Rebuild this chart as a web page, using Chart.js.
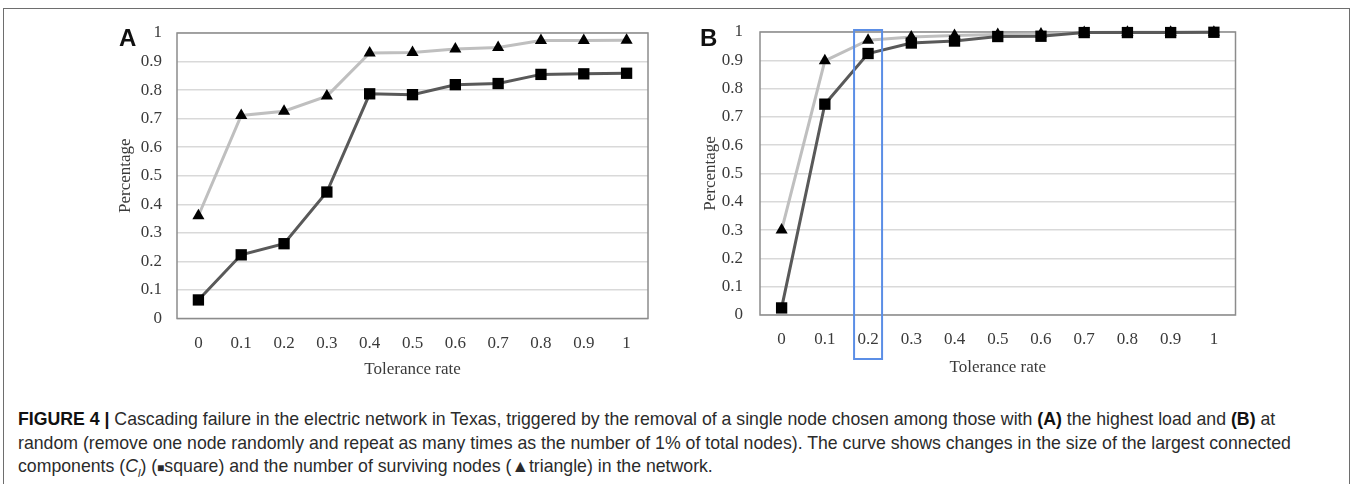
<!DOCTYPE html>
<html>
<head>
<meta charset="utf-8">
<script src="https://cdn.jsdelivr.net/npm/chart.js@4.4.0/dist/chart.umd.min.js"></script>
<style>
html, body { margin: 0; padding: 0; background: #fff; }
body { width: 1352px; height: 484px; position: relative; overflow: hidden; }
#marco { position: absolute; left: 3px; top: 8px; width: 1347px; height: 520px; border: 1.5px solid #6e6e6e; box-sizing: border-box; }
.caja { position: absolute; top: 0; }
#caja_a { left: 0; width: 680px; height: 400px; }
#caja_b { left: 680px; width: 672px; height: 400px; }
.letra { position: absolute; font: bold 24px "Liberation Sans", Arial, sans-serif; color: #111; line-height: 24px; }
#pie { position: absolute; left: 18px; top: 408px; font: 17.7px "Liberation Sans", Arial, sans-serif; line-height: 23.5px; color: #2b2b2b; white-space: nowrap; }
#pie b { color: #111; }
</style>
</head>
<body>
<div id="marco"></div>
<div class="caja" id="caja_a"><canvas id="grafico_a" width="680" height="400"></canvas></div>
<div class="caja" id="caja_b"><canvas id="grafico_b" width="672" height="400"></canvas></div>
<div class="letra" style="left:119px; top:26px;">A</div>
<div class="letra" style="left:700px; top:26px;">B</div>
<div id="pie">
<b>FIGURE 4 |</b> Cascading failure in the electric network in Texas, triggered by the removal of a single node chosen among those with <b>(A)</b> the highest load and <b>(B)</b> at<br>
random (remove one node randomly and repeat as many times as the number of 1% of total nodes). The curve shows changes in the size of the largest connected<br>
components (<i>C<sub style="font-size:11px">l</sub></i>) (<span style="font-size:12px">&#9632;</span>square) and the number of surviving nodes (&#9650;triangle) in the network.
</div>

<script>
/*********-datos-*********/
const CATEGORIAS = ["0", "0.1", "0.2", "0.3", "0.4", "0.5", "0.6", "0.7", "0.8", "0.9", "1"];
const Y_ETIQUETAS = ["0", "0.1", "0.2", "0.3", "0.4", "0.5", "0.6", "0.7", "0.8", "0.9", "1"];

// grafico A (nodo con mayor carga)
const A_TRIANGULOS = [0.36, 0.711, 0.726, 0.779, 0.930, 0.932, 0.944, 0.949, 0.974, 0.974, 0.975];
const A_CUADRADOS = [0.065, 0.223, 0.262, 0.443, 0.787, 0.784, 0.819, 0.823, 0.855, 0.857, 0.859];

// grafico B (nodo aleatorio)
const B_TRIANGULOS = [0.30, 0.898, 0.971, 0.982, 0.988, 0.991, 0.993, 0.998, 0.999, 0.999, 0.999];
const B_CUADRADOS = [0.025, 0.745, 0.924, 0.961, 0.968, 0.984, 0.985, 0.998, 0.998, 0.998, 0.999];
//------------------------------------//

const FUENTE_SERIF = "'Liberation Serif', 'Times New Roman', serif";
const COLOR_TEXTO = "#3a3a3a";

// borde gris alrededor del area del grafico
const borde_area = {
  id: "borde_area",
  beforeDatasetsDraw(chart) {
    const a = chart.chartArea;
    const ctx = chart.ctx;
    ctx.save();
    ctx.strokeStyle = "#8c8c8c";
    ctx.lineWidth = 1.5;
    ctx.strokeRect(a.left, a.top, a.right - a.left, a.bottom - a.top);
    ctx.restore();
  }
};

// rectangulo azul sobre la categoria 0.2 (solo grafico B)
const resaltado = {
  id: "resaltado",
  afterDraw(chart) {
    const x = chart.scales.x.getPixelForValue(2);
    const a = chart.chartArea;
    const ctx = chart.ctx;
    ctx.save();
    ctx.strokeStyle = "#5b8ee6";
    ctx.lineWidth = 2;
    ctx.strokeRect(x - 14, a.top - 2, 28, a.bottom - a.top + 46);
    ctx.restore();
  }
};

function crearGrafico(id, triangulos, cuadrados, ajustes, extras) {
  const CTX = document.getElementById(id).getContext("2d");
  return new Chart(CTX, {
    type: "line",
    data: {
      labels: CATEGORIAS,
      datasets: [
        {
          label: "square",
          data: cuadrados,
          order: 0,
          borderColor: "#595959",
          borderWidth: 3,
          pointStyle: "rect",
          pointRadius: 8,
          pointBackgroundColor: "#000",
          pointBorderWidth: 0,
          tension: 0,
          clip: false
        },
        {
          label: "triangle",
          data: triangulos,
          order: 1,
          borderColor: "#bfbfbf",
          borderWidth: 3,
          pointStyle: "triangle",
          pointRadius: 7,
          pointBackgroundColor: "#000",
          pointBorderWidth: 0,
          tension: 0,
          clip: false
        }
      ]
    },
    options: {
      responsive: false,
      animation: false,
      layout: { padding: ajustes.padding },
      plugins: {
        legend: { display: false },
        tooltip: { enabled: false }
      },
      scales: {
        x: {
          offset: true,
          grid: { display: false, drawTicks: false },
          border: { display: false },
          ticks: {
            color: COLOR_TEXTO,
            font: { family: FUENTE_SERIF, size: 17 },
            padding: ajustes.padX,
            maxRotation: 0,
            autoSkip: false
          },
          title: {
            display: true,
            text: "Tolerance rate",
            color: COLOR_TEXTO,
            font: { family: FUENTE_SERIF, size: 17 },
            padding: { top: 0, bottom: 0 }
          },
          afterFit(scale) { scale.height = ajustes.altoX; }
        },
        y: {
          min: 0,
          max: 1,
          grid: { color: "#d9d9d9", lineWidth: 1.5, drawTicks: false },
          border: { display: false },
          ticks: {
            stepSize: 0.1,
            color: COLOR_TEXTO,
            font: { family: FUENTE_SERIF, size: 17 },
            padding: ajustes.padY,
            callback: (v, i) => Y_ETIQUETAS[i]
          },
          title: {
            display: true,
            text: "Percentage",
            color: COLOR_TEXTO,
            font: { family: FUENTE_SERIF, size: 17 },
            padding: { top: 0, bottom: 0 }
          },
          afterFit(scale) { scale.width = ajustes.anchoY; }
        }
      }
    },
    plugins: [borde_area].concat(extras)
  });
}

// CREAR grafico A //
crearGrafico("grafico_a", A_TRIANGULOS, A_CUADRADOS, {
  padding: { left: 115, top: 33, right: 32, bottom: 20.1 },
  anchoY: 62,
  altoX: 61.4,
  padX: 15,
  padY: 15
}, []);

// CREAR grafico B //
crearGrafico("grafico_b", B_TRIANGULOS, B_CUADRADOS, {
  padding: { left: 20, top: 32, right: 116.5, bottom: 22 },
  anchoY: 60,
  altoX: 63,
  padX: 14.5,
  padY: 17
}, [resaltado]);
//------------------------------------//
</script>
</body>
</html>
